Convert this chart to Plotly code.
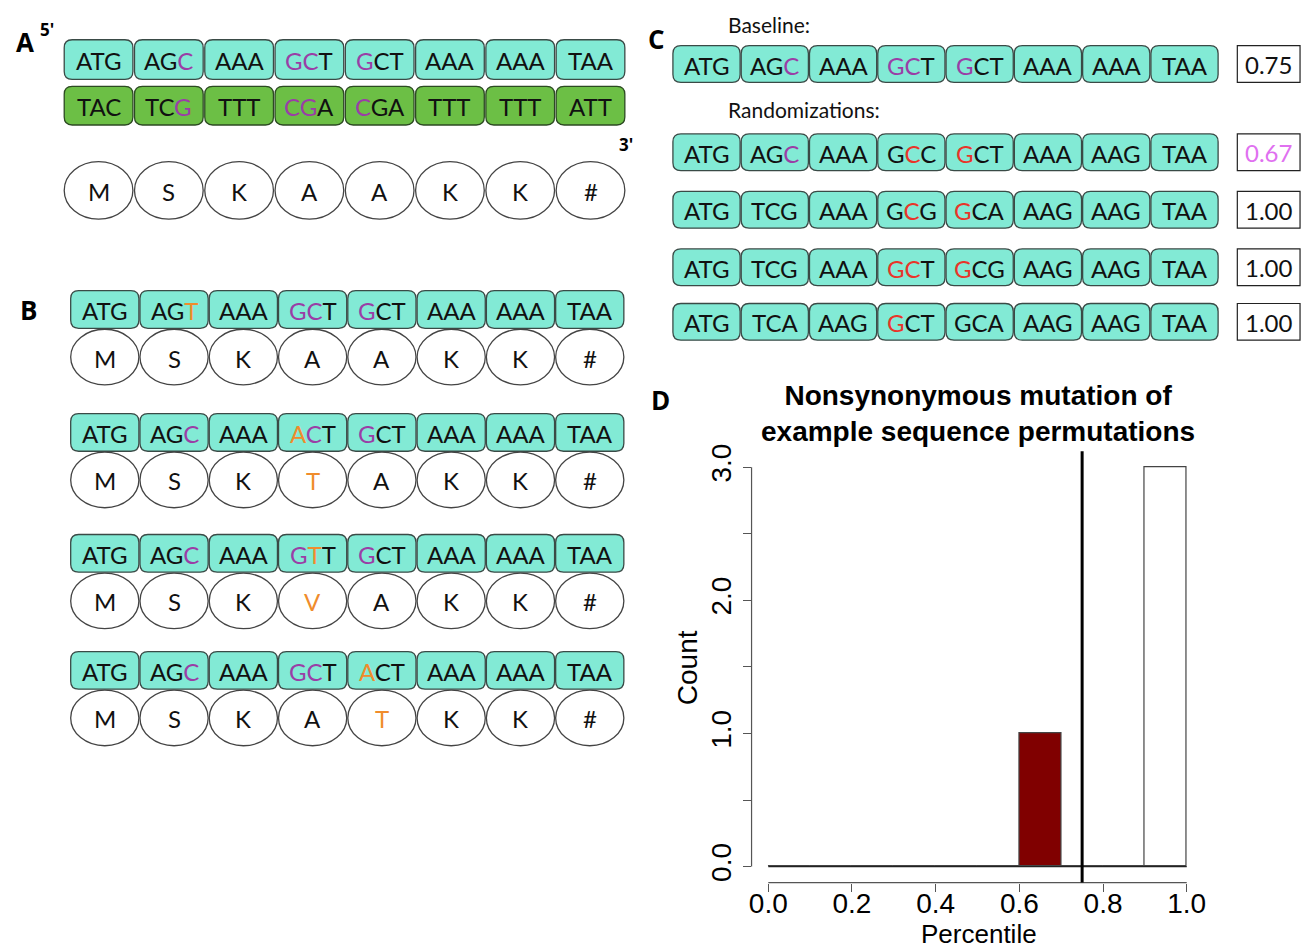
import plotly.graph_objects as go

# ---------------- DATA ----------------
# Panel A
A_TOP = ["ATG", "AGC", "AAA", "GCT", "GCT", "AAA", "AAA", "TAA"]
A_TOP_MARK = ["...", "..p", "...", "pp.", "p..", "...", "...", "..."]
A_BOT = ["TAC", "TCG", "TTT", "CGA", "CGA", "TTT", "TTT", "ATT"]
A_BOT_MARK = ["...", "..p", "...", "pp.", "p..", "...", "...", "..."]
A_AMINO = ["M", "S", "K", "A", "A", "K", "K", "#"]

# Panel B (codons, codon marks, amino acids, amino marks)
B_CODONS = [
    ["ATG", "AGT", "AAA", "GCT", "GCT", "AAA", "AAA", "TAA"],
    ["ATG", "AGC", "AAA", "ACT", "GCT", "AAA", "AAA", "TAA"],
    ["ATG", "AGC", "AAA", "GTT", "GCT", "AAA", "AAA", "TAA"],
    ["ATG", "AGC", "AAA", "GCT", "ACT", "AAA", "AAA", "TAA"],
]
B_MARKS = [
    ["...", "..o", "...", "pp.", "p..", "...", "...", "..."],
    ["...", "..p", "...", "op.", "p..", "...", "...", "..."],
    ["...", "..p", "...", "po.", "p..", "...", "...", "..."],
    ["...", "..p", "...", "pp.", "o..", "...", "...", "..."],
]
B_AMINO = [
    ["M", "S", "K", "A", "A", "K", "K", "#"],
    ["M", "S", "K", "T", "A", "K", "K", "#"],
    ["M", "S", "K", "V", "A", "K", "K", "#"],
    ["M", "S", "K", "A", "T", "K", "K", "#"],
]
B_AMINO_MARK = ["........", "...o....", "...o....", "....o..."]

# Panel C
C_CODONS = [
    ["ATG", "AGC", "AAA", "GCT", "GCT", "AAA", "AAA", "TAA"],
    ["ATG", "AGC", "AAA", "GCC", "GCT", "AAA", "AAG", "TAA"],
    ["ATG", "TCG", "AAA", "GCG", "GCA", "AAG", "AAG", "TAA"],
    ["ATG", "TCG", "AAA", "GCT", "GCG", "AAG", "AAG", "TAA"],
    ["ATG", "TCA", "AAG", "GCT", "GCA", "AAG", "AAG", "TAA"],
]
C_MARKS = [
    ["...", "..p", "...", "pp.", "p..", "...", "...", "..."],
    ["...", "..p", "...", ".r.", "r..", "...", "...", "..."],
    ["...", "...", "...", ".r.", "r..", "...", "...", "..."],
    ["...", "...", "...", "rr.", "r..", "...", "...", "..."],
    ["...", "...", "...", "r..", "...", "...", "...", "..."],
]
C_VALUES = ["0.75", "0.67", "1.00", "1.00", "1.00"]
C_VALUE_MARK = ["....", "mmmm", "....", "....", "...."]

# Panel D histogram
BIN_EDGES = [0.0, 0.1, 0.2, 0.3, 0.4, 0.5, 0.6, 0.7, 0.8, 0.9, 1.0]
COUNTS = [0, 0, 0, 0, 0, 0, 1, 0, 0, 3]
BASELINE_SCORE = 0.75
HIGHLIGHT_BIN = 6
X_TICKS = [0.0, 0.2, 0.4, 0.6, 0.8, 1.0]
Y_TICKS = [0.0, 0.5, 1.0, 1.5, 2.0, 2.5, 3.0]
Y_TICK_TEXT = ["0.0", "", "1.0", "", "2.0", "", "3.0"]

# ---------------- STYLE ----------------
W, H = 1311, 949
COL = {".": "#111111", "p": "#9a3ea6", "o": "#f08c2c", "r": "#e8352a", "m": "#e070f0"}
TURQ = "#82ead5"
TURQ_LINE = "#3a4a46"
GREEN = "#6cbf45"
GREEN_LINE = "#2c4a22"
ELL_LINE = "#444444"
DFONT = "Lato"
LFONT = "Open Sans"
AX = "Liberation Sans, Arial"
CSIZE = 24

shapes = []
annotations = []


def colored(text, mark):
    out = ""
    for ch, m in zip(text, mark):
        if m == ".":
            out += ch
        else:
            out += '<span style="color:%s">%s</span>' % (COL[m], ch)
    return out


def rrect(x0, y0, x1, y1, r, fill, line):
    p = ("M %f,%f L %f,%f Q %f,%f %f,%f L %f,%f Q %f,%f %f,%f L %f,%f Q %f,%f %f,%f "
         "L %f,%f Q %f,%f %f,%f Z") % (
        x0 + r, y0, x1 - r, y0, x1, y0, x1, y0 + r,
        x1, y1 - r, x1, y1, x1 - r, y1,
        x0 + r, y1, x0, y1, x0, y1 - r,
        x0, y0 + r, x0, y0, x0 + r, y0)
    shapes.append(dict(type="path", path=p, xref="x2", yref="y2", fillcolor=fill,
                       line=dict(color=line, width=1.3), layer="above"))


def text(x, y, t, size=CSIZE, font=DFONT, color="#111111", xanchor="center", angle=0):
    annotations.append(dict(x=x, y=y, xref="x2", yref="y2", text=t, showarrow=False,
                            font=dict(family=font, size=size, color=color),
                            xanchor=xanchor, yanchor="middle", textangle=angle))


def codon_row(codons, marks, x0, pitch, w, y0, h, fill, line, size=CSIZE):
    for i, (c, m) in enumerate(zip(codons, marks)):
        xa = x0 + i * pitch
        rrect(xa, y0, xa + w, y0 + h, 8, fill, line)
        text(xa + w / 2, y0 + h / 2 + 1, colored(c, m), size=size)


def amino_row(aminos, marks, x0, pitch, w, y0, h):
    for i, (a, m) in enumerate(zip(aminos, marks)):
        xa = x0 + i * pitch
        shapes.append(dict(type="circle", xref="x2", yref="y2", x0=xa, x1=xa + w,
                           y0=y0, y1=y0 + h, fillcolor="white",
                           line=dict(color=ELL_LINE, width=1.3), layer="above"))
        text(xa + w / 2, y0 + h / 2 + 1, colored(a, m), size=CSIZE)


# Panel A
codon_row(A_TOP, A_TOP_MARK, 61.5, 70.6, 69, 32, 40, TURQ, TURQ_LINE)
codon_row(A_BOT, A_BOT_MARK, 61.5, 70.6, 69, 79, 39, GREEN, GREEN_LINE)
amino_row(A_AMINO, "." * 8, 61.5, 70.6, 69, 155, 58)
text(22, 34, "<b>A</b>", size=26, font=LFONT, color="#000000")
text(44, 22, "<b>5'</b>", size=17, font=LFONT, color="#000000")
text(626, 138, "<b>3'</b>", size=17, font=LFONT, color="#000000")

# Panel B
B_TOPS = [285, 409, 531, 649]
for k in range(4):
    codon_row(B_CODONS[k], B_MARKS[k], 68, 69.6, 68.5, B_TOPS[k], 38, TURQ, TURQ_LINE)
    amino_row(B_AMINO[k], B_AMINO_MARK[k], 68, 69.6, 68.5, B_TOPS[k] + 39, 56)
text(26, 305, "<b>B</b>", size=26, font=LFONT, color="#000000")

# Panel C
C_TOPS = [38, 127, 185, 243, 298]
for k in range(5):
    codon_row(C_CODONS[k], C_MARKS[k], 673, 68.6, 67.5, C_TOPS[k], 37, TURQ, TURQ_LINE)
    shapes.append(dict(type="rect", xref="x2", yref="y2", x0=1240, x1=1303,
                       y0=C_TOPS[k], y1=C_TOPS[k] + 37, fillcolor="white",
                       line=dict(color="#222222", width=1.2), layer="above"))
    text(1271.5, C_TOPS[k] + 19, colored(C_VALUES[k], C_VALUE_MARK[k]), size=CSIZE)
text(657, 31, "<b>C</b>", size=26, font=LFONT, color="#000000")
text(726, 17, "Baseline:", size=21, xanchor="left")
text(726, 102, "Randomizations:", size=21, xanchor="left")

# Panel D texts
text(661, 395, "<b>D</b>", size=26, font=LFONT, color="#000000")
text(979, 409, "<b>Nonsynonymous mutation of<br>example sequence permutations</b>",
     size=28, font=AX, color="#000000")
text(688, 665, "Count", size=28, font=AX, color="#000000", angle=-90)
text(980, 934, "Percentile", size=26, font=AX, color="#000000")

# ---------------- FIGURE ----------------
fig = go.Figure()

# zero-count bins drawn as a baseline (R-style zero-height rectangles)
fig.add_trace(go.Scatter(x=BIN_EDGES, y=[0] * len(BIN_EDGES), mode="lines",
                         line=dict(color="#222222", width=1.3), hoverinfo="skip",
                         showlegend=False, xaxis="x", yaxis="y"))

centers = [(BIN_EDGES[i] + BIN_EDGES[i + 1]) / 2 for i in range(len(COUNTS))]
widths = [BIN_EDGES[i + 1] - BIN_EDGES[i] for i in range(len(COUNTS))]
colors = ["#800000" if i == HIGHLIGHT_BIN else "white" for i in range(len(COUNTS))]
fig.add_trace(go.Bar(x=centers, y=COUNTS, width=widths, marker=dict(
    color=colors, line=dict(color="#444444", width=1.2)), showlegend=False,
    xaxis="x", yaxis="y"))

# helper trace for pixel-space overlay axes
fig.add_trace(go.Scatter(x=[0], y=[0], mode="markers", marker=dict(opacity=0),
                         hoverinfo="skip", showlegend=False, xaxis="x2", yaxis="y2"))

# R style axis lines and baseline marker
shapes.append(dict(type="line", xref="x", yref="y domain", x0=X_TICKS[0], x1=X_TICKS[-1],
                   y0=0, y1=0, line=dict(color="#555555", width=1.2)))
shapes.append(dict(type="line", xref="x domain", yref="y", x0=0, x1=0,
                   y0=Y_TICKS[0], y1=Y_TICKS[-1], line=dict(color="#555555", width=1.2)))
shapes.append(dict(type="line", xref="x", yref="y domain", x0=BASELINE_SCORE,
                   x1=BASELINE_SCORE, y0=0, y1=1, line=dict(color="#000000", width=3)))

fig.update_layout(
    width=W, height=H, margin=dict(l=0, r=0, t=0, b=0),
    paper_bgcolor="white", plot_bgcolor="rgba(0,0,0,0)", bargap=0,
    xaxis=dict(domain=[752 / W, 1206 / W], range=[-0.04, 1.04], showgrid=False,
               zeroline=False, showline=False, ticks="outside", ticklen=8,
               tickcolor="#555555", tickvals=X_TICKS,
               ticktext=["%.1f" % v for v in X_TICKS], ticklabelstandoff=-12,
               tickfont=dict(family=AX, size=28, color="#000000"), anchor="y"),
    yaxis=dict(domain=[1 - 882 / H, 1 - 447 / H], range=[-0.12, 3.12], showgrid=False,
               zeroline=False, showline=False, ticks="outside", ticklen=8,
               tickcolor="#555555", tickvals=Y_TICKS, ticktext=Y_TICK_TEXT,
               tickangle=-90, tickfont=dict(family=AX, size=28, color="#000000"),
               anchor="x"),
    xaxis2=dict(domain=[0, 1], range=[0, W], visible=False, anchor="y2",
                fixedrange=True),
    yaxis2=dict(domain=[0, 1], range=[H, 0], visible=False, anchor="x2",
                fixedrange=True, autorange=False),
    shapes=shapes, annotations=annotations,
)

fig.write_html("out.html")
